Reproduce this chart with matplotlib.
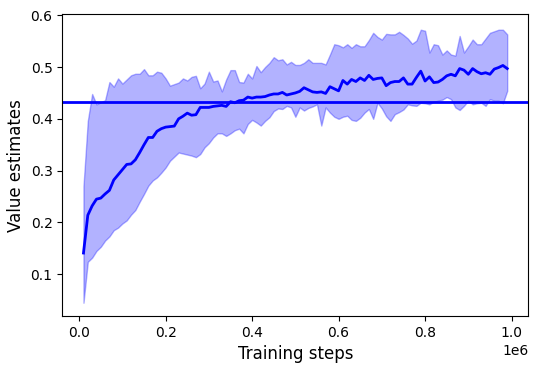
import numpy as np
import matplotlib
matplotlib.use("Agg")
import matplotlib.pyplot as plt

steps = np.arange(1, 100) * 10000

mean_vals = [
    0.141, 0.214, 0.232, 0.245, 0.247, 0.255, 0.262, 0.282, 0.292, 0.302,
    0.312, 0.313, 0.321, 0.335, 0.350, 0.364, 0.364, 0.376, 0.381, 0.384,
    0.385, 0.386, 0.400, 0.405, 0.411, 0.407, 0.408, 0.422, 0.422, 0.422,
    0.424, 0.425, 0.426, 0.424, 0.433, 0.431, 0.435, 0.436, 0.442, 0.440,
    0.442, 0.442, 0.443, 0.446, 0.448, 0.448, 0.451, 0.446, 0.448, 0.450,
    0.453, 0.460, 0.456, 0.452, 0.451, 0.452, 0.449, 0.462, 0.458, 0.454,
    0.474, 0.467, 0.476, 0.472, 0.479, 0.474, 0.484, 0.476, 0.478, 0.479,
    0.464, 0.470, 0.472, 0.472, 0.479, 0.467, 0.467, 0.480, 0.492, 0.473,
    0.481, 0.470, 0.471, 0.476, 0.483, 0.486, 0.483, 0.497, 0.494, 0.486,
    0.497, 0.491, 0.487, 0.489, 0.486, 0.496, 0.499, 0.503, 0.497,
]

upper_vals = [
    0.270, 0.396, 0.448, 0.428, 0.432, 0.436, 0.471, 0.462, 0.478, 0.468,
    0.476, 0.484, 0.487, 0.487, 0.496, 0.484, 0.484, 0.491, 0.489, 0.478,
    0.464, 0.467, 0.470, 0.478, 0.474, 0.481, 0.483, 0.459, 0.468, 0.491,
    0.472, 0.474, 0.453, 0.476, 0.494, 0.494, 0.471, 0.470, 0.487, 0.478,
    0.502, 0.490, 0.500, 0.508, 0.519, 0.513, 0.515, 0.505, 0.510, 0.504,
    0.504, 0.508, 0.515, 0.508, 0.508, 0.508, 0.505, 0.524, 0.544, 0.542,
    0.538, 0.544, 0.537, 0.544, 0.540, 0.540, 0.552, 0.566, 0.558, 0.553,
    0.564, 0.563, 0.563, 0.568, 0.562, 0.555, 0.545, 0.551, 0.572, 0.570,
    0.528, 0.544, 0.542, 0.524, 0.532, 0.524, 0.522, 0.560, 0.528, 0.540,
    0.553, 0.544, 0.544, 0.555, 0.566, 0.569, 0.572, 0.572, 0.563,
]

lower_vals = [
    0.045, 0.124, 0.132, 0.145, 0.153, 0.165, 0.173, 0.185, 0.190, 0.198,
    0.204, 0.215, 0.224, 0.240, 0.255, 0.271, 0.281, 0.287, 0.296, 0.306,
    0.319, 0.327, 0.335, 0.333, 0.331, 0.329, 0.326, 0.332, 0.345, 0.353,
    0.364, 0.372, 0.372, 0.367, 0.372, 0.378, 0.381, 0.372, 0.390, 0.398,
    0.393, 0.387, 0.396, 0.403, 0.415, 0.420, 0.419, 0.425, 0.422, 0.404,
    0.422, 0.416, 0.421, 0.424, 0.428, 0.387, 0.422, 0.412, 0.404, 0.400,
    0.404, 0.406, 0.398, 0.396, 0.402, 0.412, 0.419, 0.400, 0.431, 0.420,
    0.405, 0.396, 0.409, 0.413, 0.418, 0.428, 0.426, 0.425, 0.431, 0.430,
    0.428, 0.433, 0.435, 0.437, 0.442, 0.438, 0.422, 0.417, 0.425, 0.435,
    0.428, 0.430, 0.431, 0.425, 0.438, 0.435, 0.435, 0.430, 0.454,
]

baseline = 0.433

fig = plt.figure(figsize=(5.37, 3.70), dpi=100)
ax = fig.add_axes([0.116, 0.146, 0.868, 0.815])

ax.fill_between(steps, lower_vals, upper_vals, color="blue", alpha=0.3)
ax.plot(steps, mean_vals, color="blue", linewidth=2)
ax.axhline(baseline, color="blue", linewidth=2)

ax.set_ylim(0.0195, 0.6015)
ax.set_xlabel("Training steps", fontsize=12)
ax.set_ylabel("Value estimates", fontsize=12)

fig.savefig("out.png", dpi=100)
